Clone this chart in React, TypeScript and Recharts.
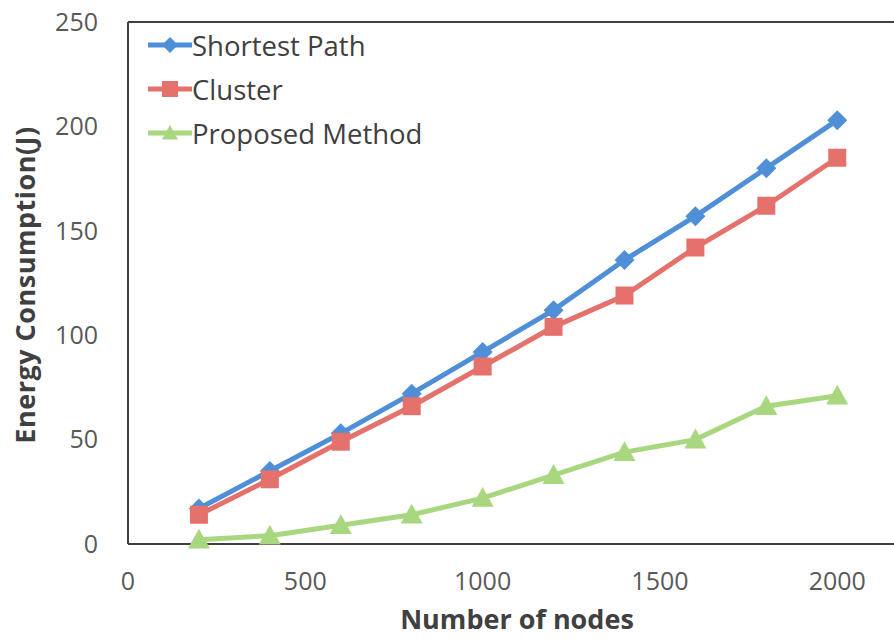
import { Line, LineChart, ReferenceLine, XAxis, YAxis } from "recharts";

// dados
const nodes = [200, 400, 600, 800, 1000, 1200, 1400, 1600, 1800, 2000];
const shortestPath = [17, 35, 53, 72, 92, 112, 136, 157, 180, 203];
const cluster = [14, 31, 49, 66, 85, 104, 119, 142, 162, 185];
const proposed = [2, 4, 9, 14, 22, 33, 44, 50, 66, 71];
const xTicks = [0, 500, 1000, 1500, 2000];
const yTicks = [0, 50, 100, 150, 200, 250];

const data = nodes.map((n, i) => ({
  n,
  sp: shortestPath[i],
  cl: cluster[i],
  pm: proposed[i],
}));

const BLUE = "#4f8fd8";
const RED = "#e4716c";
const GREEN = "#a9d77f";
const FONT = "'Open Sans', sans-serif";

const Diamond = ({ cx, cy, fill, s = 10 }: any) => (
  <path d={`M${cx},${cy - s}L${cx + s},${cy}L${cx},${cy + s}L${cx - s},${cy}Z`} fill={fill} />
);
const Square = ({ cx, cy, fill, s = 9 }: any) => (
  <rect x={cx - s} y={cy - s} width={s * 2} height={s * 2} fill={fill} />
);
const Triangle = ({ cx, cy, fill, s = 11 }: any) => (
  <path d={`M${cx},${cy - s}L${cx + s},${cy + s * 0.8}L${cx - s},${cy + s * 0.8}Z`} fill={fill} />
);

const legendItems = [
  { name: "Shortest Path", color: BLUE, Shape: Diamond },
  { name: "Cluster", color: RED, Shape: Square },
  { name: "Proposed Method", color: GREEN, Shape: Triangle },
];

// legenda dentro da área do gráfico, canto superior esquerdo
const LegendBox = () => (
  <div style={{ position: "absolute", left: 148, top: 23 }}>
    {legendItems.map(({ name, color, Shape }) => (
      <div key={name} style={{ display: "flex", alignItems: "center", height: 44 }}>
        <svg width={44} height={24}>
          <line x1={0} y1={12} x2={44} y2={12} stroke={color} strokeWidth={5} />
          <Shape cx={22} cy={12} fill={color} s={8} />
        </svg>
        <span style={{ fontFamily: FONT, fontSize: 27.5, color: "#404040", whiteSpace: "nowrap" }}>
          {name}
        </span>
      </div>
    ))}
  </div>
);

// título do eixo Y, rotacionado e centrado
const YTitle = ({ viewBox }: any) => {
  const cx = 24;
  const cy = viewBox.y + viewBox.height / 2 + 2;
  return (
    <text
      x={cx}
      y={cy}
      transform={`rotate(-90, ${cx}, ${cy})`}
      textAnchor="middle"
      dominantBaseline="central"
      fill="#404040"
      fontSize={27}
      fontWeight="bold"
      fontFamily={FONT}
      letterSpacing={0.5}
    >
      Energy Consumption(J)
    </text>
  );
};

export default function App() {
  return (
    <div style={{ position: "absolute", left: 0, top: 0, background: "#fff" }}>
      <LineChart
        width={894}
        height={639}
        data={data}
        margin={{ top: 22, right: 0, left: 0, bottom: 0 }}
      >
        <XAxis
          dataKey="n"
          type="number"
          domain={[0, 2160]}
          ticks={xTicks}
          allowDataOverflow
          height={95}
          tickLine={false}
          tickSize={0}
          tickMargin={28}
          axisLine={{ stroke: "#404040", strokeWidth: 2 }}
          tick={{ fill: "#595959", fontSize: 25, fontFamily: FONT }}
          label={{
            value: "Number of nodes",
            position: "insideBottom",
            offset: 10,
            dx: 6,
            fill: "#404040",
            fontSize: 27,
            fontWeight: "bold",
            fontFamily: FONT,
          }}
        />
        <YAxis
          type="number"
          domain={[0, 250]}
          ticks={yTicks}
          width={128}
          tickLine={false}
          tickSize={0}
          tickMargin={30}
          axisLine={{ stroke: "#404040", strokeWidth: 2 }}
          tick={{ fill: "#595959", fontSize: 25, fontFamily: FONT }}
          label={{ content: YTitle }}
        />
        <ReferenceLine y={250} stroke="#404040" strokeWidth={2} />
        <Line
          dataKey="sp"
          stroke={BLUE}
          strokeWidth={5}
          isAnimationActive={false}
          dot={(p: any) => <Diamond key={p.index} cx={p.cx} cy={p.cy} fill={BLUE} />}
        />
        <Line
          dataKey="cl"
          stroke={RED}
          strokeWidth={5}
          isAnimationActive={false}
          dot={(p: any) => <Square key={p.index} cx={p.cx} cy={p.cy} fill={RED} />}
        />
        <Line
          dataKey="pm"
          stroke={GREEN}
          strokeWidth={5}
          isAnimationActive={false}
          dot={(p: any) => <Triangle key={p.index} cx={p.cx} cy={p.cy} fill={GREEN} />}
        />
      </LineChart>
      <LegendBox />
    </div>
  );
}
